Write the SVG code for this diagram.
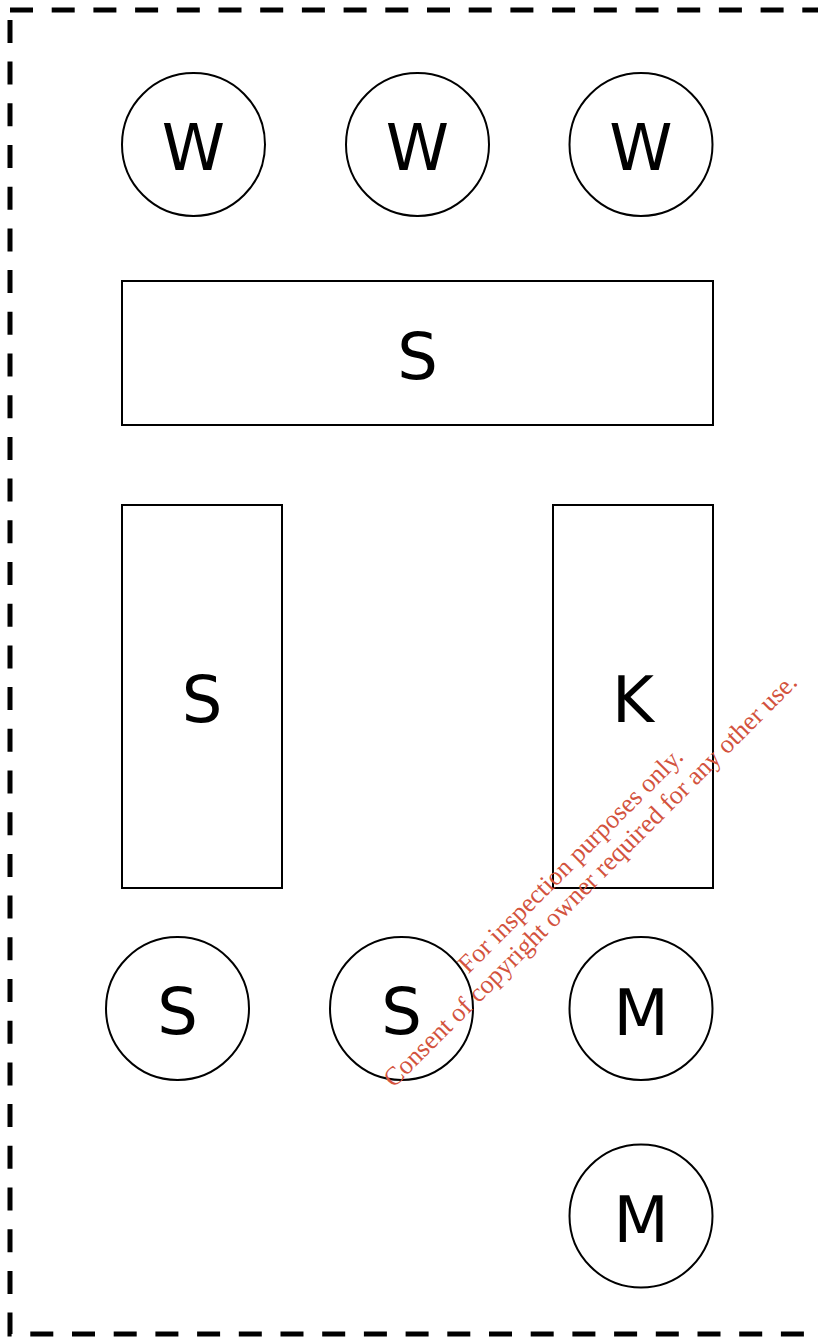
<svg xmlns="http://www.w3.org/2000/svg" width="818" height="1338" viewBox="0 0 818 1338">
<style>
.n{fill:#fff;stroke:#000;stroke-width:2}
.t{font-family:"DejaVu Sans",sans-serif;font-size:64px;fill:#000;text-anchor:middle}
.wm{font-family:"Liberation Serif",serif;font-size:26px;fill:#d3533e;text-anchor:middle}
</style>
<rect x="10" y="10" width="840" height="1324" fill="none" stroke="#000" stroke-width="5" stroke-dasharray="23 18.7"/>
<g id="connectors"></g>
<g id="w1"><circle class="n" cx="193.5" cy="144.5" r="71.5"/><text class="t" x="193.5" y="170">W</text></g>
<g id="w2"><circle class="n" cx="417.5" cy="144.5" r="71.5"/><text class="t" x="417.5" y="170">W</text></g>
<g id="w3"><circle class="n" cx="641" cy="144.5" r="71.5"/><text class="t" x="641" y="170">W</text></g>
<g id="s-top"><rect class="n" x="122" y="281" width="591" height="144"/><text class="t" x="417.5" y="379">S</text></g>
<g id="s-left"><rect class="n" x="122" y="505" width="160" height="383"/><text class="t" x="202" y="722">S</text></g>
<g id="k"><rect class="n" x="553" y="505" width="160" height="383"/><text class="t" x="633" y="722">K</text></g>
<g id="s1"><circle class="n" cx="177.5" cy="1008.5" r="71.5"/><text class="t" x="177.5" y="1034">S</text></g>
<g id="s2"><circle class="n" cx="401.5" cy="1008.5" r="71.5"/><text class="t" x="401.5" y="1034">S</text></g>
<g id="m1"><circle class="n" cx="641" cy="1008.5" r="71.5"/><text class="t" x="641" y="1035">M</text></g>
<g id="m2"><circle class="n" cx="641" cy="1216" r="71.5"/><text class="t" x="641" y="1242">M</text></g>
<g id="watermark" transform="translate(582,872) rotate(-45)">
<text class="wm" x="0" y="-8">For inspection purposes only.</text>
<text class="wm" x="0" y="20">Consent of copyright owner required for any other use.</text>
</g>
</svg>
